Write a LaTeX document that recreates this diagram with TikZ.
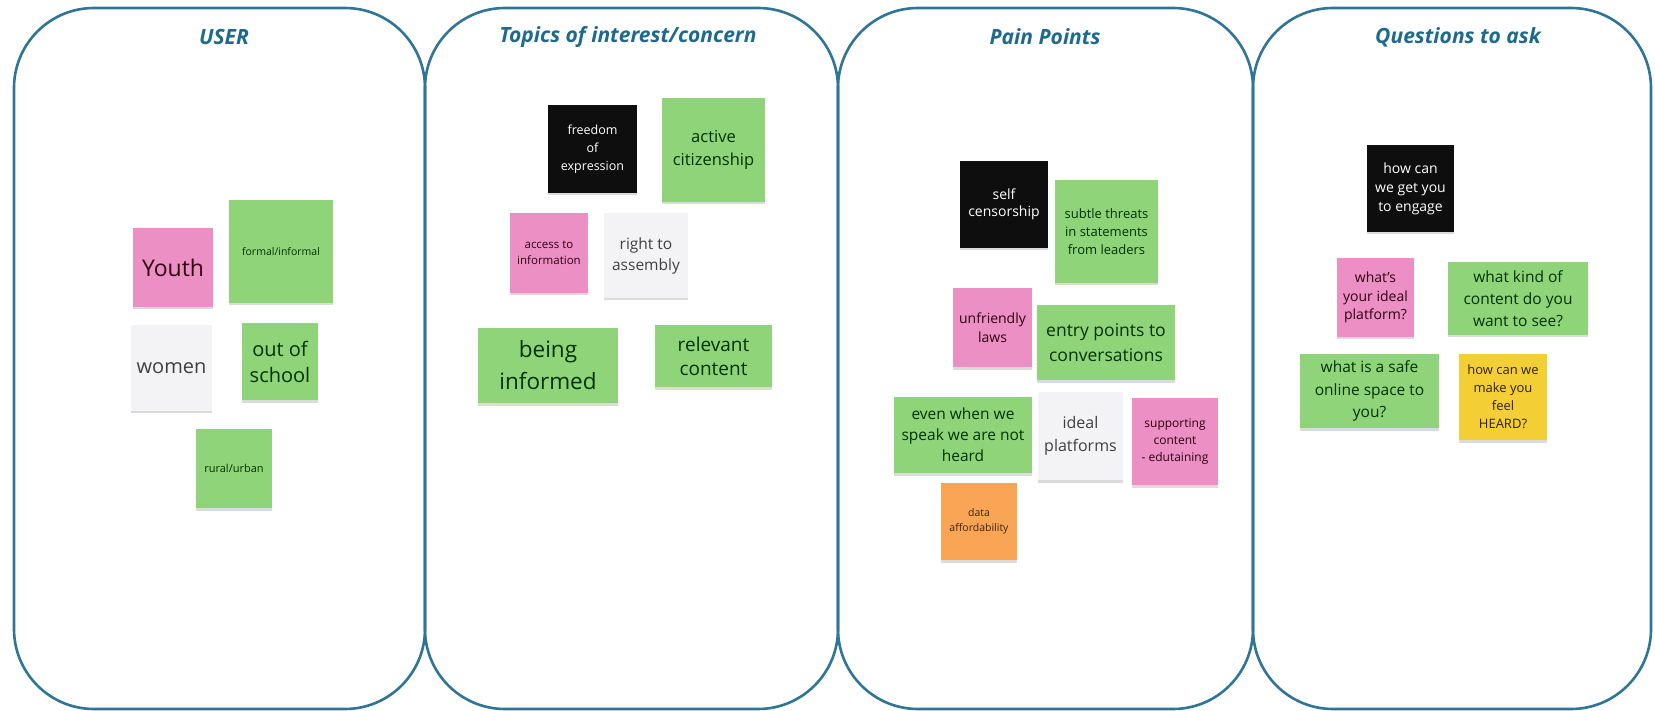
\documentclass[tikz,border=0pt]{standalone}
\usepackage{fontspec}
\setmainfont{Open Sans}
\usetikzlibrary{shadows}
\definecolor{panelblue}{HTML}{2F7597}
\definecolor{titleblue}{HTML}{1D6A8E}
\definecolor{notepink}{HTML}{EB8FC4}
\definecolor{notegreen}{HTML}{8FD479}
\definecolor{noteorange}{HTML}{F9A555}
\definecolor{noteyellow}{HTML}{F3CF35}
\definecolor{notewhite}{HTML}{F3F3F5}
\definecolor{noteblack}{HTML}{0E0E0E}
\newcommand{\notesize}[2]{\fontsize{#1pt}{#2pt}\selectfont}

\begin{document}
\begin{tikzpicture}[x=1pt,y=-1pt]
        \tikzstyle{panel}=[draw=panelblue,line width=2.6pt,rounded corners=80pt]
        \tikzstyle{heading}=[text=titleblue,font=\notesize{21}{25}\bfseries\itshape]
        \tikzstyle{note}=[rectangle,align=center,inner sep=0pt,drop shadow={opacity=0.28,shadow xshift=0pt,shadow yshift=-2.5pt}]
        \tikzstyle{pinknote}=[note,fill=notepink,text=black!75!purple]
        \tikzstyle{greennote}=[note,fill=notegreen,text=black!80!green]
        \tikzstyle{whitenote}=[note,fill=notewhite,text=black!75]
        \tikzstyle{blacknote}=[note,fill=noteblack,text=white]
        \tikzstyle{orangenote}=[note,fill=noteorange,text=black!70!brown]
        \tikzstyle{yellownote}=[note,fill=noteyellow,text=black!75!brown]
        \useasboundingbox (0,0) rectangle (1655,711);
        \fill[white] (0,0) rectangle (1655,711);
        % the four columns
        \draw[panel] (14,8) rectangle (425,709);
        \draw[panel] (425,8) rectangle (838,709);
        \draw[panel] (838,8) rectangle (1253,709);
        \draw[panel] (1253,8) rectangle (1651,709);
        \node[heading](user) at (224,37){USER};
        \node[heading](topics) at (628,37){Topics of interest/concern};
        \node[heading](pain) at (1045,37){Pain Points};
        \node[heading](questions) at (1458,37){Questions to ask};
        % USER
        \node[pinknote,minimum width=80pt,minimum height=79pt,font=\notesize{23}{30}](youth) at (173,267.5){Youth};
        \node[greennote,minimum width=104pt,minimum height=103pt,font=\notesize{10.5}{14}](formal) at (281,251.5){formal/informal};
        \node[whitenote,minimum width=81pt,minimum height=85pt,font=\notesize{20}{27}](women) at (171.5,368){women};
        \node[greennote,minimum width=76pt,minimum height=77pt,font=\notesize{20}{26}](school) at (280,361.5){out of\\school};
        \node[greennote,minimum width=76pt,minimum height=79pt,font=\notesize{11}{15}](rural) at (234,468.5){rural/urban};
        % Topics of interest/concern
        \node[blacknote,minimum width=89pt,minimum height=88pt,font=\notesize{12.5}{18}](freedom) at (592.5,149){freedom\\of\\expression};
        \node[greennote,minimum width=103pt,minimum height=104pt,font=\notesize{16.5}{23}](active) at (713.5,150){active\\citizenship};
        \node[pinknote,minimum width=78pt,minimum height=80pt,font=\notesize{11.5}{16}](access) at (549,253){access to\\information};
        \node[whitenote,minimum width=84pt,minimum height=85pt,font=\notesize{15.5}{21}](assembly) at (646,255.5){right to\\assembly};
        \node[greennote,minimum width=140pt,minimum height=75pt,font=\notesize{22.5}{32}](informed) at (548,365.5){being\\informed};
        \node[greennote,minimum width=117pt,minimum height=62pt,font=\notesize{19}{24}](relevant) at (713.5,356){relevant\\content};
        % Pain Points
        \node[blacknote,minimum width=88pt,minimum height=87pt,font=\notesize{14}{17}](censor) at (1004,204.5){self\\censorship};
        \node[greennote,minimum width=103pt,minimum height=103pt,font=\notesize{13}{18.3}](threats) at (1106.5,231.5){subtle threats\\in statements\\from leaders};
        \node[pinknote,minimum width=79pt,minimum height=79pt,font=\notesize{14}{19}](laws) at (992.5,327.5){unfriendly\\laws};
        \node[greennote,minimum width=138pt,minimum height=75pt,font=\notesize{17.5}{25}](entry) at (1106,342.5){entry points to\\conversations};
        \node[greennote,minimum width=138pt,minimum height=76pt,font=\notesize{15.5}{21}](heard) at (963,435){even when we\\speak we are not\\heard};
        \node[whitenote,minimum width=85pt,minimum height=88pt,font=\notesize{16}{23}](platforms) at (1080.5,436){ideal\\platforms};
        \node[pinknote,minimum width=86pt,minimum height=87pt,font=\notesize{12}{16.7}](edutain) at (1175,441.5){supporting\\content\\- edutaining};
        \node[orangenote,minimum width=76pt,minimum height=77pt,font=\notesize{10.5}{15}](data) at (979,521.5){data\\affordability};
        % Questions to ask
        \node[blacknote,minimum width=87pt,minimum height=87pt,font=\notesize{14}{19}](engage) at (1410.5,188.5){how can\\we get you\\to engage};
        \node[pinknote,minimum width=77pt,minimum height=79pt,font=\notesize{14}{18.5}](ideal) at (1375.5,297.5){what's\\your ideal\\platform?};
        \node[greennote,minimum width=140pt,minimum height=73pt,font=\notesize{15.5}{21.7}](kind) at (1518,298.5){what kind of\\content do you\\want to see?};
        \node[greennote,minimum width=139pt,minimum height=74pt,font=\notesize{15.5}{22.5}](safe) at (1369.5,391){what is a safe\\online space to\\you?};
        \node[yellownote,minimum width=88pt,minimum height=86pt,font=\notesize{13}{18}](feel) at (1503,397){how can we\\make you\\feel\\HEARD?};
\end{tikzpicture}
\end{document}
